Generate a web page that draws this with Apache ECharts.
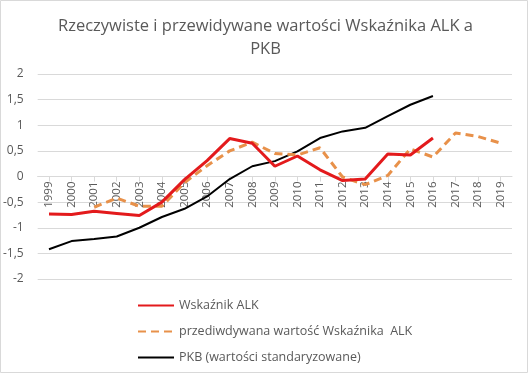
<!DOCTYPE html>
<html><head><meta charset="utf-8">
<script src="https://cdn.jsdelivr.net/npm/echarts@6/dist/echarts.min.js"></script>
<style>html,body{margin:0;padding:0;background:#fff}#c{width:531px;height:374px}</style>
</head><body><div id="c"></div>
<script>
var years = ['1999','2000','2001','2002','2003','2004','2005','2006','2007','2008','2009','2010','2011','2012','2013','2014','2015','2016','2017','2018','2019'];
var alk = [-0.73,-0.74,-0.68,-0.72,-0.76,-0.50,-0.06,0.31,0.74,0.65,0.20,0.40,0.13,-0.08,-0.05,0.44,0.42,0.75,null,null,null];
var alkPred = [null,null,-0.60,-0.42,-0.58,-0.58,-0.12,0.21,0.50,0.67,0.45,0.42,0.56,-0.01,-0.16,0.02,0.54,0.38,0.85,0.78,0.65];
var pkb = [-1.42,-1.26,-1.22,-1.17,-1.00,-0.79,-0.63,-0.39,-0.05,0.20,0.30,0.49,0.75,0.88,0.95,1.18,1.40,1.57,null,null,null];
var seriesNames = ['Wskaźnik ALK','przediwdywana wartość Wskaźnika  ALK','PKB (wartości standaryzowane)'];
var titleText = 'Rzeczywiste i przewidywane wartości Wskaźnika ALK a\nPKB';

var chart = echarts.init(document.getElementById('c'), null, {renderer:'canvas'});
var font = 'Open Sans, Liberation Sans, sans-serif';
var gridTop = 74, gridBottom = 95, plotH = 374 - gridTop - gridBottom;
chart.setOption({
  animation:false,
  textStyle:{fontFamily:font},
  graphic:[{type:'rect',shape:{x:0.5,y:0.5,width:527,height:372},style:{fill:'none',stroke:'#d9d9d9',lineWidth:1}}],
  title:{text:titleText,left:'center',top:10,textStyle:{fontSize:16.5,fontWeight:'normal',color:'#595959',lineHeight:23,fontFamily:font}},
  grid:{left:36,right:19,top:gridTop,bottom:gridBottom,containLabel:false},
  legend:{orient:'vertical',left:137,top:299,padding:0,itemWidth:36,itemHeight:10,itemGap:13,
    itemStyle:{opacity:0},
    textStyle:{fontSize:12.5,color:'#595959'},
    data:seriesNames},
  xAxis:{type:'category',data:years,boundaryGap:true,
    offset:-plotH/2,
    axisLine:{onZero:false,lineStyle:{color:'#d9d9d9'}},
    axisTick:{show:true,alignWithLabel:true,length:5,lineStyle:{color:'#d9d9d9'}},
    axisLabel:{rotate:90,color:'#595959',fontSize:11.5,margin:5,interval:0}},
  yAxis:{type:'value',min:-2,max:2,interval:0.5,
    axisLine:{show:false},axisTick:{show:false},
    splitLine:{lineStyle:{color:'#d9d9d9'}},
    axisLabel:{color:'#595959',fontSize:12,margin:14,formatter:function(v){return String(v).replace('.',',');}}},
  series:[
    {name:seriesNames[0],type:'line',data:alk,symbol:'none',lineStyle:{color:'#e31a1c',width:3},itemStyle:{color:'#e31a1c'},z:3},
    {name:seriesNames[1],type:'line',data:alkPred,symbol:'none',lineStyle:{color:'#e8914a',width:3,type:[8,5]},itemStyle:{color:'#e8914a'},z:2},
    {name:seriesNames[2],type:'line',data:pkb,symbol:'none',lineStyle:{color:'#000000',width:2},itemStyle:{color:'#000000'},z:1}
  ]
});
</script></body></html>
